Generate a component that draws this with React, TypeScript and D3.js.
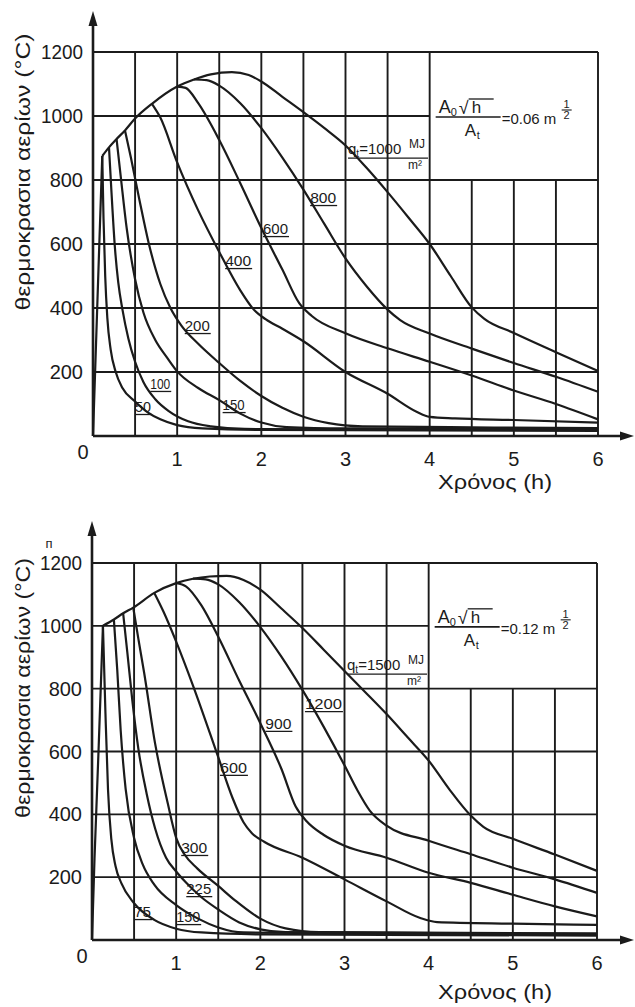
import React from "react";
import * as d3 from "d3";

type Pt = [number, number];

// ---- axes ----
const HOUR_TICKS = [1, 2, 3, 4, 5, 6];
const HOUR_LABELS = ["1", "2", "3", "4", "5", "6"];
const HALF_HOURS = [0.5, 1, 1.5, 2, 2.5, 3, 3.5, 4, 4.5, 5, 5.5, 6];
const TEMP_TICKS = [200, 400, 600, 800, 1000, 1200];
const TEMP_LABELS = ["200", "400", "600", "800", "1000", "1200"];

const Y_TITLE = "θερμοκρασια αερίων (°C)";
const X_TITLE = "Χρόνος (h)";

// ---- upper diagram: opening factor 0.06 m^1/2 ----
const riseA: Pt[] = [[0, 0], [0.03, 240], [0.07, 560], [0.11, 875]];
const envelopeA: Pt[] = [
  [0.11, 875], [0.19, 902], [0.28, 928], [0.38, 955], [0.5, 992], [0.7, 1038],
  [1.0, 1092], [1.2, 1114], [1.4, 1130], [1.65, 1137],
];
const decayA1000: Pt[] = [
  [1.85, 1128], [2.0, 1108], [2.25, 1060], [2.5, 1012], [2.75, 962], [3.0, 908],
  [3.25, 838], [3.5, 762], [3.75, 682], [4.0, 600], [4.25, 500], [4.5, 402],
  [4.65, 366], [5.0, 322], [5.5, 262], [6.0, 203],
];
const decayA800: Pt[] = [
  [1.2, 1114], [1.35, 1112], [1.5, 1095], [1.75, 1040], [2.0, 962], [2.25, 870],
  [2.5, 770], [2.75, 662], [3.0, 555], [3.25, 468], [3.5, 395], [3.65, 362],
  [4.0, 320], [4.5, 273], [5.0, 228], [5.5, 185], [6.0, 138],
];
const decayA600: Pt[] = [
  [1.0, 1092], [1.1, 1088], [1.25, 1040], [1.5, 925], [1.75, 790], [2.0, 650],
  [2.25, 520], [2.45, 415], [2.6, 375], [3.0, 321], [3.5, 274], [4.0, 232],
  [4.5, 189], [5.0, 142], [5.5, 100], [6.0, 52],
];
const decayA400: Pt[] = [
  [0.7, 1038], [0.8, 995], [1.0, 855], [1.25, 705], [1.5, 575], [1.75, 455],
  [1.9, 398], [2.05, 365], [2.25, 335], [2.5, 296], [3.0, 200], [3.5, 132],
  [3.85, 75], [4.0, 60], [4.3, 55], [5.0, 50], [6.0, 42],
];
const decayA200: Pt[] = [
  [0.38, 955], [0.45, 870], [0.55, 740], [0.66, 605], [0.8, 475], [0.92, 400],
  [1.05, 345], [1.25, 288], [1.5, 228], [1.75, 172], [2.0, 125], [2.25, 88],
  [2.5, 60], [2.8, 40], [3.2, 30], [4.5, 27], [6.0, 25],
];
const decayA150: Pt[] = [
  [0.28, 928], [0.33, 810], [0.4, 650], [0.5, 490], [0.6, 385], [0.74, 300],
  [0.88, 245], [1.0, 202], [1.25, 150], [1.5, 112], [1.75, 70], [2.0, 42],
  [2.3, 28], [3.0, 24], [6.0, 22],
];
const decayA100: Pt[] = [
  [0.19, 902], [0.22, 760], [0.26, 590], [0.3, 480], [0.35, 395], [0.42, 305],
  [0.5, 232], [0.6, 168], [0.74, 115], [0.9, 78], [1.13, 46], [1.4, 30],
  [1.8, 22], [6.0, 19],
];
const decayA50: Pt[] = [
  [0.11, 875], [0.125, 680], [0.145, 500], [0.17, 370], [0.21, 270], [0.27, 200],
  [0.35, 150], [0.5, 108], [0.65, 74], [0.8, 52], [1.0, 34], [1.3, 24],
  [2.0, 19], [6.0, 16],
];

// ---- lower diagram: opening factor 0.12 m^1/2 ----
const riseB: Pt[] = [[0, 0], [0.03, 260], [0.08, 620], [0.13, 1000]];
const envelopeB: Pt[] = [
  [0.13, 1000], [0.26, 1020], [0.37, 1040], [0.49, 1058], [0.74, 1105],
  [1.0, 1136], [1.2, 1150], [1.4, 1157], [1.6, 1159],
];
const decayB1500: Pt[] = [
  [1.8, 1146], [2.0, 1115], [2.25, 1055], [2.5, 993], [2.75, 925], [3.0, 856],
  [3.25, 788], [3.5, 719], [3.75, 645], [4.0, 571], [4.25, 478], [4.5, 396],
  [4.65, 360], [5.0, 322], [5.5, 272], [6.0, 220],
];
const decayB1200: Pt[] = [
  [1.2, 1150], [1.35, 1148], [1.5, 1132], [1.75, 1075], [2.0, 996], [2.25, 902],
  [2.5, 796], [2.75, 680], [3.0, 556], [3.15, 478], [3.3, 412], [3.5, 364],
  [4.0, 316], [4.5, 273], [5.0, 230], [5.5, 193], [6.0, 150],
];
const decayB900: Pt[] = [
  [1.0, 1136], [1.12, 1125], [1.3, 1065], [1.5, 965], [1.75, 825], [2.0, 690],
  [2.25, 545], [2.42, 425], [2.55, 378], [2.75, 335], [3.0, 300], [3.5, 262],
  [4.0, 214], [4.5, 182], [5.0, 144], [5.5, 107], [6.0, 75],
];
const decayB600: Pt[] = [
  [0.74, 1105], [0.85, 1045], [1.0, 950], [1.2, 810], [1.5, 582], [1.67, 452],
  [1.8, 375], [1.9, 340], [2.05, 312], [2.5, 262], [3.0, 193], [3.5, 123],
  [3.9, 70], [4.1, 57], [5.0, 52], [6.0, 48],
];
const decayB300: Pt[] = [
  [0.49, 1058], [0.55, 960], [0.62, 850], [0.75, 625], [0.9, 435], [1.0, 325],
  [1.1, 272], [1.25, 228], [1.5, 172], [1.7, 126], [2.0, 68], [2.3, 37],
  [2.7, 25], [6.0, 21],
];
const decayB225: Pt[] = [
  [0.37, 1040], [0.42, 915], [0.48, 760], [0.55, 610], [0.65, 465], [0.75, 355],
  [0.88, 262], [1.0, 218], [1.12, 182], [1.3, 136], [1.5, 97], [1.75, 56],
  [2.0, 34], [2.3, 25], [6.0, 19],
];
const decayB150: Pt[] = [
  [0.26, 1020], [0.3, 860], [0.34, 670], [0.4, 480], [0.5, 325], [0.6, 242],
  [0.74, 176], [1.0, 111], [1.26, 68], [1.5, 40], [1.8, 24], [6.0, 17],
];
const decayB75: Pt[] = [
  [0.13, 1000], [0.16, 720], [0.19, 480], [0.23, 320], [0.28, 235], [0.35, 180],
  [0.5, 117], [0.74, 64], [1.0, 36], [1.3, 24], [2.0, 18], [6.0, 14],
];

// fire load (MJ/m²) of each curve
const QA = ["1000", "800", "600", "400", "200", "150", "100", "50"];
const QB = ["1500", "1200", "900", "600", "300", "225", "150", "75"];

const seriesA: Pt[][] = [
  envelopeA.concat(decayA1000), decayA800, decayA600, decayA400,
  decayA200, decayA150, decayA100, decayA50,
];
const seriesB: Pt[][] = [
  envelopeB.concat(decayB1500), decayB1200, decayB900, decayB600,
  decayB300, decayB225, decayB150, decayB75,
];

// ---- layout ----
const FONT = "'Liberation Sans', Arial, Helvetica, sans-serif";
const INK = "#1b1b1b";
const BOX = { t0: 4, T0: 800 }; // blank corner holding the opening factor

type Frame = {
  left: number; right: number; top: number; bottom: number;
  arrowTop: number; arrowRight: number; titleY: number;
  yTitleCenter: number; yTitleLen: number;
};

const frameA: Frame = {
  left: 93, right: 598, top: 52, bottom: 436, arrowTop: 11, arrowRight: 634,
  titleY: 489, yTitleCenter: 172, yTitleLen: 277,
};
const frameB: Frame = {
  left: 92, right: 597, top: 563, bottom: 940, arrowTop: 521, arrowRight: 634,
  titleY: 999, yTitleCenter: 688, yTitleLen: 260,
};

// label anchors (left end of text, baseline) in chart units
type Tag = { t: number; T: number; w: number };
const tagsA: Tag[] = [
  { t: 3.03, T: 881, w: 0 },
  { t: 2.58, T: 728, w: 26 },
  { t: 2.02, T: 631, w: 25 },
  { t: 1.57, T: 531, w: 26 },
  { t: 1.09, T: 328, w: 25 },
  { t: 1.54, T: 81, w: 22 },
  { t: 0.68, T: 147, w: 20 },
  { t: 0.5, T: 75, w: 16 },
];
const tagsB: Tag[] = [
  { t: 3.03, T: 859, w: 0 },
  { t: 2.53, T: 735, w: 37 },
  { t: 2.06, T: 672, w: 26 },
  { t: 1.52, T: 532, w: 27 },
  { t: 1.06, T: 277, w: 26 },
  { t: 1.12, T: 146, w: 25 },
  { t: 1.0, T: 57, w: 24 },
  { t: 0.5, T: 73, w: 17 },
];

type PanelProps = {
  f: Frame;
  rise: Pt[];
  series: Pt[][];
  loads: string[];
  tags: Tag[];
  ratio: string;
  mark?: boolean;
};

function Panel({ f, rise, series, loads, tags, ratio, mark }: PanelProps) {
  const x = d3.scaleLinear().domain([0, 6]).range([f.left, f.right]);
  const y = d3.scaleLinear().domain([0, 1200]).range([f.bottom, f.top]);
  const smooth = d3
    .line<Pt>()
    .x((d) => x(d[0]))
    .y((d) => y(d[1]))
    .curve(d3.curveMonotoneX);
  const straight = d3
    .line<Pt>()
    .x((d) => x(d[0]))
    .y((d) => y(d[1]));

  const fx = x(4) + 6;
  const fy = y(1000);
  const qt = tags[0];
  const qx = x(qt.t);
  const qy = y(qt.T);

  return (
    <g fontFamily={FONT} fill={INK}>
      {/* grid */}
      {HALF_HOURS.map((t) => (
        <line
          key={"v" + t}
          x1={x(t)}
          x2={x(t)}
          y1={y(0)}
          y2={y(t > BOX.t0 && t < 6 ? BOX.T0 : 1200)}
          stroke={INK}
          strokeWidth={1.9}
        />
      ))}
      {TEMP_TICKS.map((T) => (
        <line
          key={"h" + T}
          x1={x(0)}
          x2={x(T > BOX.T0 && T < 1200 ? BOX.t0 : 6)}
          y1={y(T)}
          y2={y(T)}
          stroke={INK}
          strokeWidth={1.9}
        />
      ))}

      {/* axes with arrows */}
      <line x1={x(0)} x2={x(0)} y1={y(0)} y2={f.arrowTop + 10} stroke={INK} strokeWidth={2.6} />
      <path d={`M${x(0)},${f.arrowTop} l-4.5,15 h9 z`} />
      <line x1={x(0)} x2={f.arrowRight - 10} y1={y(0)} y2={y(0)} stroke={INK} strokeWidth={2.6} />
      <path d={`M${f.arrowRight},${y(0)} l-14,-4.5 v9 z`} />

      {/* temperature curves */}
      <path d={straight(rise) ?? ""} fill="none" stroke={INK} strokeWidth={2.2} />
      {series.map((pts, i) => (
        <path
          key={"c" + i}
          d={smooth(pts) ?? ""}
          fill="none"
          stroke={INK}
          strokeWidth={2.2}
          strokeLinejoin="round"
        />
      ))}

      {/* tick labels */}
      {TEMP_TICKS.map((T, i) => (
        <text
          key={"yt" + T}
          x={x(0) - 10}
          y={y(T)}
          textAnchor="end"
          dominantBaseline="central"
          fontSize={20}
          textLength={TEMP_LABELS[i].length === 4 ? 42 : undefined}
          lengthAdjust="spacingAndGlyphs"
        >
          {TEMP_LABELS[i]}
        </text>
      ))}
      <text x={x(0) - 10} y={y(0) + 16} textAnchor="middle" dominantBaseline="central" fontSize={20}>
        0
      </text>
      {HOUR_TICKS.map((t, i) => (
        <text
          key={"xt" + t}
          x={x(t)}
          y={y(0) + 23}
          textAnchor="middle"
          dominantBaseline="central"
          fontSize={20}
        >
          {HOUR_LABELS[i]}
        </text>
      ))}

      {/* axis titles */}
      <text x={438} y={f.titleY} fontSize={20} textLength={114} lengthAdjust="spacingAndGlyphs">
        {X_TITLE}
      </text>
      <text
        transform={`translate(23,${f.yTitleCenter}) rotate(-90)`}
        textAnchor="middle"
        dominantBaseline="central"
        fontSize={20}
        textLength={f.yTitleLen}
        lengthAdjust="spacingAndGlyphs"
      >
        {Y_TITLE}
      </text>
      {mark && (
        <text x={49} y={f.top - 15} textAnchor="middle" fontSize={13}>
          п
        </text>
      )}

      {/* curve labels */}
      {tags.slice(1).map((tg, i) => {
        const lx = x(tg.t);
        const ly = y(tg.T);
        return (
          <g key={"tag" + i}>
            <text
              x={lx}
              y={ly}
              fontSize={14}
              textLength={tg.w}
              lengthAdjust="spacingAndGlyphs"
            >
              {loads[i + 1]}
            </text>
            <line x1={lx} x2={lx + tg.w + 1} y1={ly + 2.5} y2={ly + 2.5} stroke={INK} strokeWidth={1.3} />
          </g>
        );
      })}

      {/* q_t label of the largest fire load */}
      <text x={qx} y={qy} fontSize={15}>
        q
        <tspan fontSize={10} dy={3}>t</tspan>
        <tspan fontSize={15} dy={-3}>{"=" + loads[0]}</tspan>
      </text>
      <text x={qx + 61} y={qy - 6} fontSize={12}>MJ</text>
      <line x1={qx} x2={qx + 80} y1={qy + 4} y2={qy + 4} stroke={INK} strokeWidth={1.3} />
      <text x={qx + 60} y={qy + 15} fontSize={12}>m²</text>

      {/* opening factor */}
      <text x={fx + 3} y={fy - 3} fontSize={18}>A</text>
      <text x={fx + 15} y={fy} fontSize={11}>0</text>
      <text x={fx + 23} y={fy - 2} fontSize={18}>√</text>
      <text x={fx + 36} y={fy - 3} fontSize={17}>h</text>
      <line x1={fx + 33} x2={fx + 58} y1={fy - 17} y2={fy - 17} stroke={INK} strokeWidth={1.3} />
      <line x1={fx} x2={fx + 65} y1={fy + 1} y2={fy + 1} stroke={INK} strokeWidth={1.6} />
      <text x={fx + 29} y={fy + 20} fontSize={17}>A</text>
      <text x={fx + 41} y={fy + 23} fontSize={11}>t</text>
      <text x={fx + 66} y={fy + 8} fontSize={15}>{"=" + ratio + " m"}</text>
      <text x={fx + 131} y={fy - 8} textAnchor="middle" fontSize={11}>1</text>
      <line x1={fx + 126} x2={fx + 136} y1={fy - 6} y2={fy - 6} stroke={INK} strokeWidth={1.1} />
      <text x={fx + 131} y={fy + 3} textAnchor="middle" fontSize={11}>2</text>
    </g>
  );
}

export default function App() {
  return (
    <svg
      width={635}
      height={1007}
      style={{ position: "absolute", left: 0, top: 0, background: "#fff" }}
    >
      <rect width={635} height={1007} fill="#fff" />
      <Panel f={frameA} rise={riseA} series={seriesA} loads={QA} tags={tagsA} ratio="0.06" />
      <Panel f={frameB} rise={riseB} series={seriesB} loads={QB} tags={tagsB} ratio="0.12" mark />
    </svg>
  );
}
